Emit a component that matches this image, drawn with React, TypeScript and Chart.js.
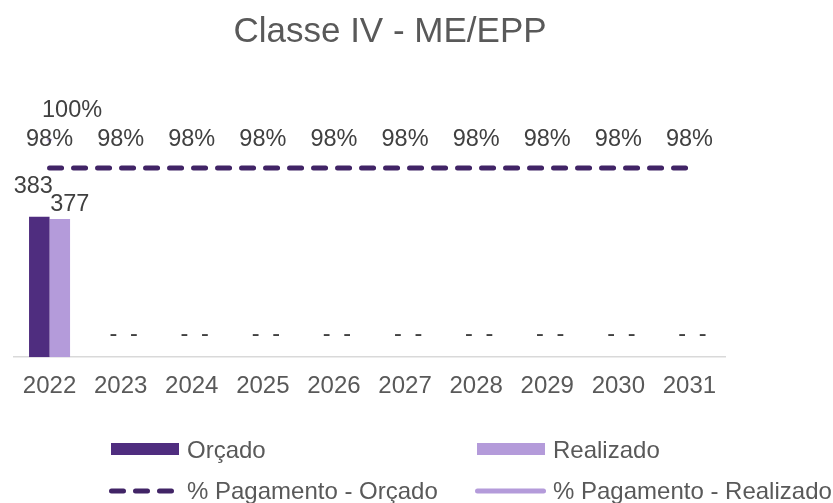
import React, { useEffect, useRef } from 'react';
import { Chart, registerables } from 'chart.js';

Chart.register(...registerables);

const TITLE = 'Classe IV - ME/EPP';
const categories = ['2022', '2023', '2024', '2025', '2026', '2027', '2028', '2029', '2030', '2031'];
const orcado = [383, 0, 0, 0, 0, 0, 0, 0, 0, 0];
const realizado = [377, 0, 0, 0, 0, 0, 0, 0, 0, 0];
const pagamentoOrcado = [0.98, 0.98, 0.98, 0.98, 0.98, 0.98, 0.98, 0.98, 0.98, 0.98];
const pagamentoRealizado = [1.0, null, null, null, null, null, null, null, null, null];

const FONT = '"Liberation Sans", Arial, Helvetica, sans-serif';
const COL_ORC = '#4F2D7F';
const COL_REA = '#B49BDA';
const COL_LINE = '#412466';
const TEXT_DARK = '#404040';
const TEXT_MID = '#595959';

const pct = (v: number) => Math.round(v * 100) + '%';

const labelsPlugin = {
  id: 'customLabels',
  afterDatasetsDraw(chart: any) {
    const ctx = chart.ctx;
    ctx.save();
    ctx.font = `23.5px ${FONT}`;
    ctx.fillStyle = TEXT_DARK;
    ctx.textAlign = 'center';
    ctx.textBaseline = 'alphabetic';
    const metaO = chart.getDatasetMeta(0);
    const metaR = chart.getDatasetMeta(1);
    const vO = chart.data.datasets[0].data as number[];
    const vR = chart.data.datasets[1].data as number[];
    for (let i = 0; i < vO.length; i++) {
      const both = vO[i] > 0 && vR[i] > 0;
      const specs: [any, number[], number, number][] = [
        [metaO, vO, -6, 24],
        [metaR, vR, 10, 8],
      ];
      specs.forEach(([meta, vals, dx, up]) => {
        const el = meta.data[i];
        const v = vals[i];
        if (!el) return;
        if (v === 0) ctx.fillText('-', el.x + 3, el.y - 16);
        else if (both) ctx.fillText(String(v), el.x + dx, el.y - up);
        else ctx.fillText(String(v), el.x, el.y - 10);
      });
    }
    const metaPO = chart.getDatasetMeta(2);
    const metaPR = chart.getDatasetMeta(3);
    const pO = chart.data.datasets[2].data as (number | null)[];
    const pR = chart.data.datasets[3].data as (number | null)[];
    pO.forEach((v, i) => {
      if (v == null) return;
      const el = metaPO.data[i];
      ctx.fillText(pct(v), el.x, el.y - 22.5);
    });
    pR.forEach((v, i) => {
      if (v == null) return;
      const el = metaPR.data[i];
      ctx.fillText(pct(v), el.x + 22.5, el.y - 22);
    });
    ctx.restore();
  },
  afterDraw(chart: any) {
    const ctx = chart.ctx;
    ctx.save();
    // title
    ctx.font = `35px ${FONT}`;
    ctx.fillStyle = TEXT_MID;
    ctx.textAlign = 'center';
    ctx.textBaseline = 'alphabetic';
    ctx.fillText(TITLE, 390, 42);

    // legend
    const ds = chart.data.datasets;
    const cols = [111, 477];
    const rows = [449, 491];
    const textBase = [457.5, 499];
    ctx.font = `24px ${FONT}`;
    ctx.textAlign = 'left';
    const drawText = (label: string, c: number, r: number) => {
      ctx.fillStyle = TEXT_MID;
      ctx.fillText(label, cols[c] + 76, textBase[r]);
    };
    ctx.fillStyle = ds[0].backgroundColor;
    ctx.fillRect(cols[0], rows[0] - 6, 68, 12);
    drawText(ds[0].label, 0, 0);
    ctx.fillStyle = ds[1].backgroundColor;
    ctx.fillRect(cols[1], rows[0] - 6, 68, 12);
    drawText(ds[1].label, 1, 0);
    ctx.lineCap = 'round';
    ctx.lineWidth = 5;
    ctx.strokeStyle = ds[2].borderColor;
    ctx.setLineDash([12, 12]);
    ctx.beginPath();
    ctx.moveTo(cols[0] + 0.5, rows[1]);
    ctx.lineTo(cols[0] + 60.5, rows[1]);
    ctx.stroke();
    drawText(ds[2].label, 0, 1);
    ctx.setLineDash([]);
    ctx.strokeStyle = ds[3].borderColor;
    ctx.beginPath();
    ctx.moveTo(cols[1] + 0.5, rows[1]);
    ctx.lineTo(cols[1] + 66.5, rows[1]);
    ctx.stroke();
    drawText(ds[3].label, 1, 1);
    ctx.restore();
  },
};

export default function App() {
  const canvasRef = useRef<HTMLCanvasElement | null>(null);

  useEffect(() => {
    document.body.style.margin = '0';
    const canvas = canvasRef.current;
    if (!canvas) return;
    const chart = new Chart(canvas, {
      type: 'bar',
      data: {
        labels: categories,
        datasets: [
          {
            type: 'bar',
            label: 'Orçado',
            data: orcado,
            backgroundColor: COL_ORC,
            yAxisID: 'y',
            categoryPercentage: 0.577,
            barPercentage: 1.0,
            order: 2,
          },
          {
            type: 'bar',
            label: 'Realizado',
            data: realizado,
            backgroundColor: COL_REA,
            yAxisID: 'y',
            categoryPercentage: 0.577,
            barPercentage: 1.0,
            order: 2,
          },
          {
            type: 'line',
            label: '% Pagamento - Orçado',
            data: pagamentoOrcado,
            borderColor: COL_LINE,
            backgroundColor: COL_LINE,
            borderWidth: 5,
            borderDash: [12, 12],
            borderCapStyle: 'round',
            pointRadius: 0,
            fill: false,
            yAxisID: 'y1',
            order: 1,
          },
          {
            type: 'line',
            label: '% Pagamento - Realizado',
            data: pagamentoRealizado,
            borderColor: COL_REA,
            backgroundColor: COL_REA,
            borderWidth: 5,
            borderCapStyle: 'round',
            pointRadius: 0,
            fill: false,
            spanGaps: false,
            yAxisID: 'y1',
            order: 1,
          },
        ] as any,
      },
      options: {
        animation: false,
        responsive: true,
        maintainAspectRatio: false,
        layout: { padding: { left: 14, right: 108, top: 139, bottom: 87 } },
        plugins: {
          legend: { display: false },
          title: { display: false },
          tooltip: { enabled: false },
        },
        scales: {
          x: {
            grid: { display: false, drawTicks: false },
            border: { display: true, color: '#D9D9D9', width: 1.5 },
            ticks: {
              color: TEXT_MID,
              font: { family: FONT, size: 24 },
              padding: 15,
              maxRotation: 0,
              autoSkip: false,
            },
          },
          y: { display: false, min: 0, max: 595 },
          y1: { display: false, min: 0.85, max: 1.0, position: 'right' },
        },
      },
      plugins: [labelsPlugin],
    });
    return () => chart.destroy();
  }, []);

  return (
    <div style={{ position: 'relative', width: 833, height: 503 }}>
      <canvas ref={canvasRef} style={{ display: 'block' }} />
    </div>
  );
}
